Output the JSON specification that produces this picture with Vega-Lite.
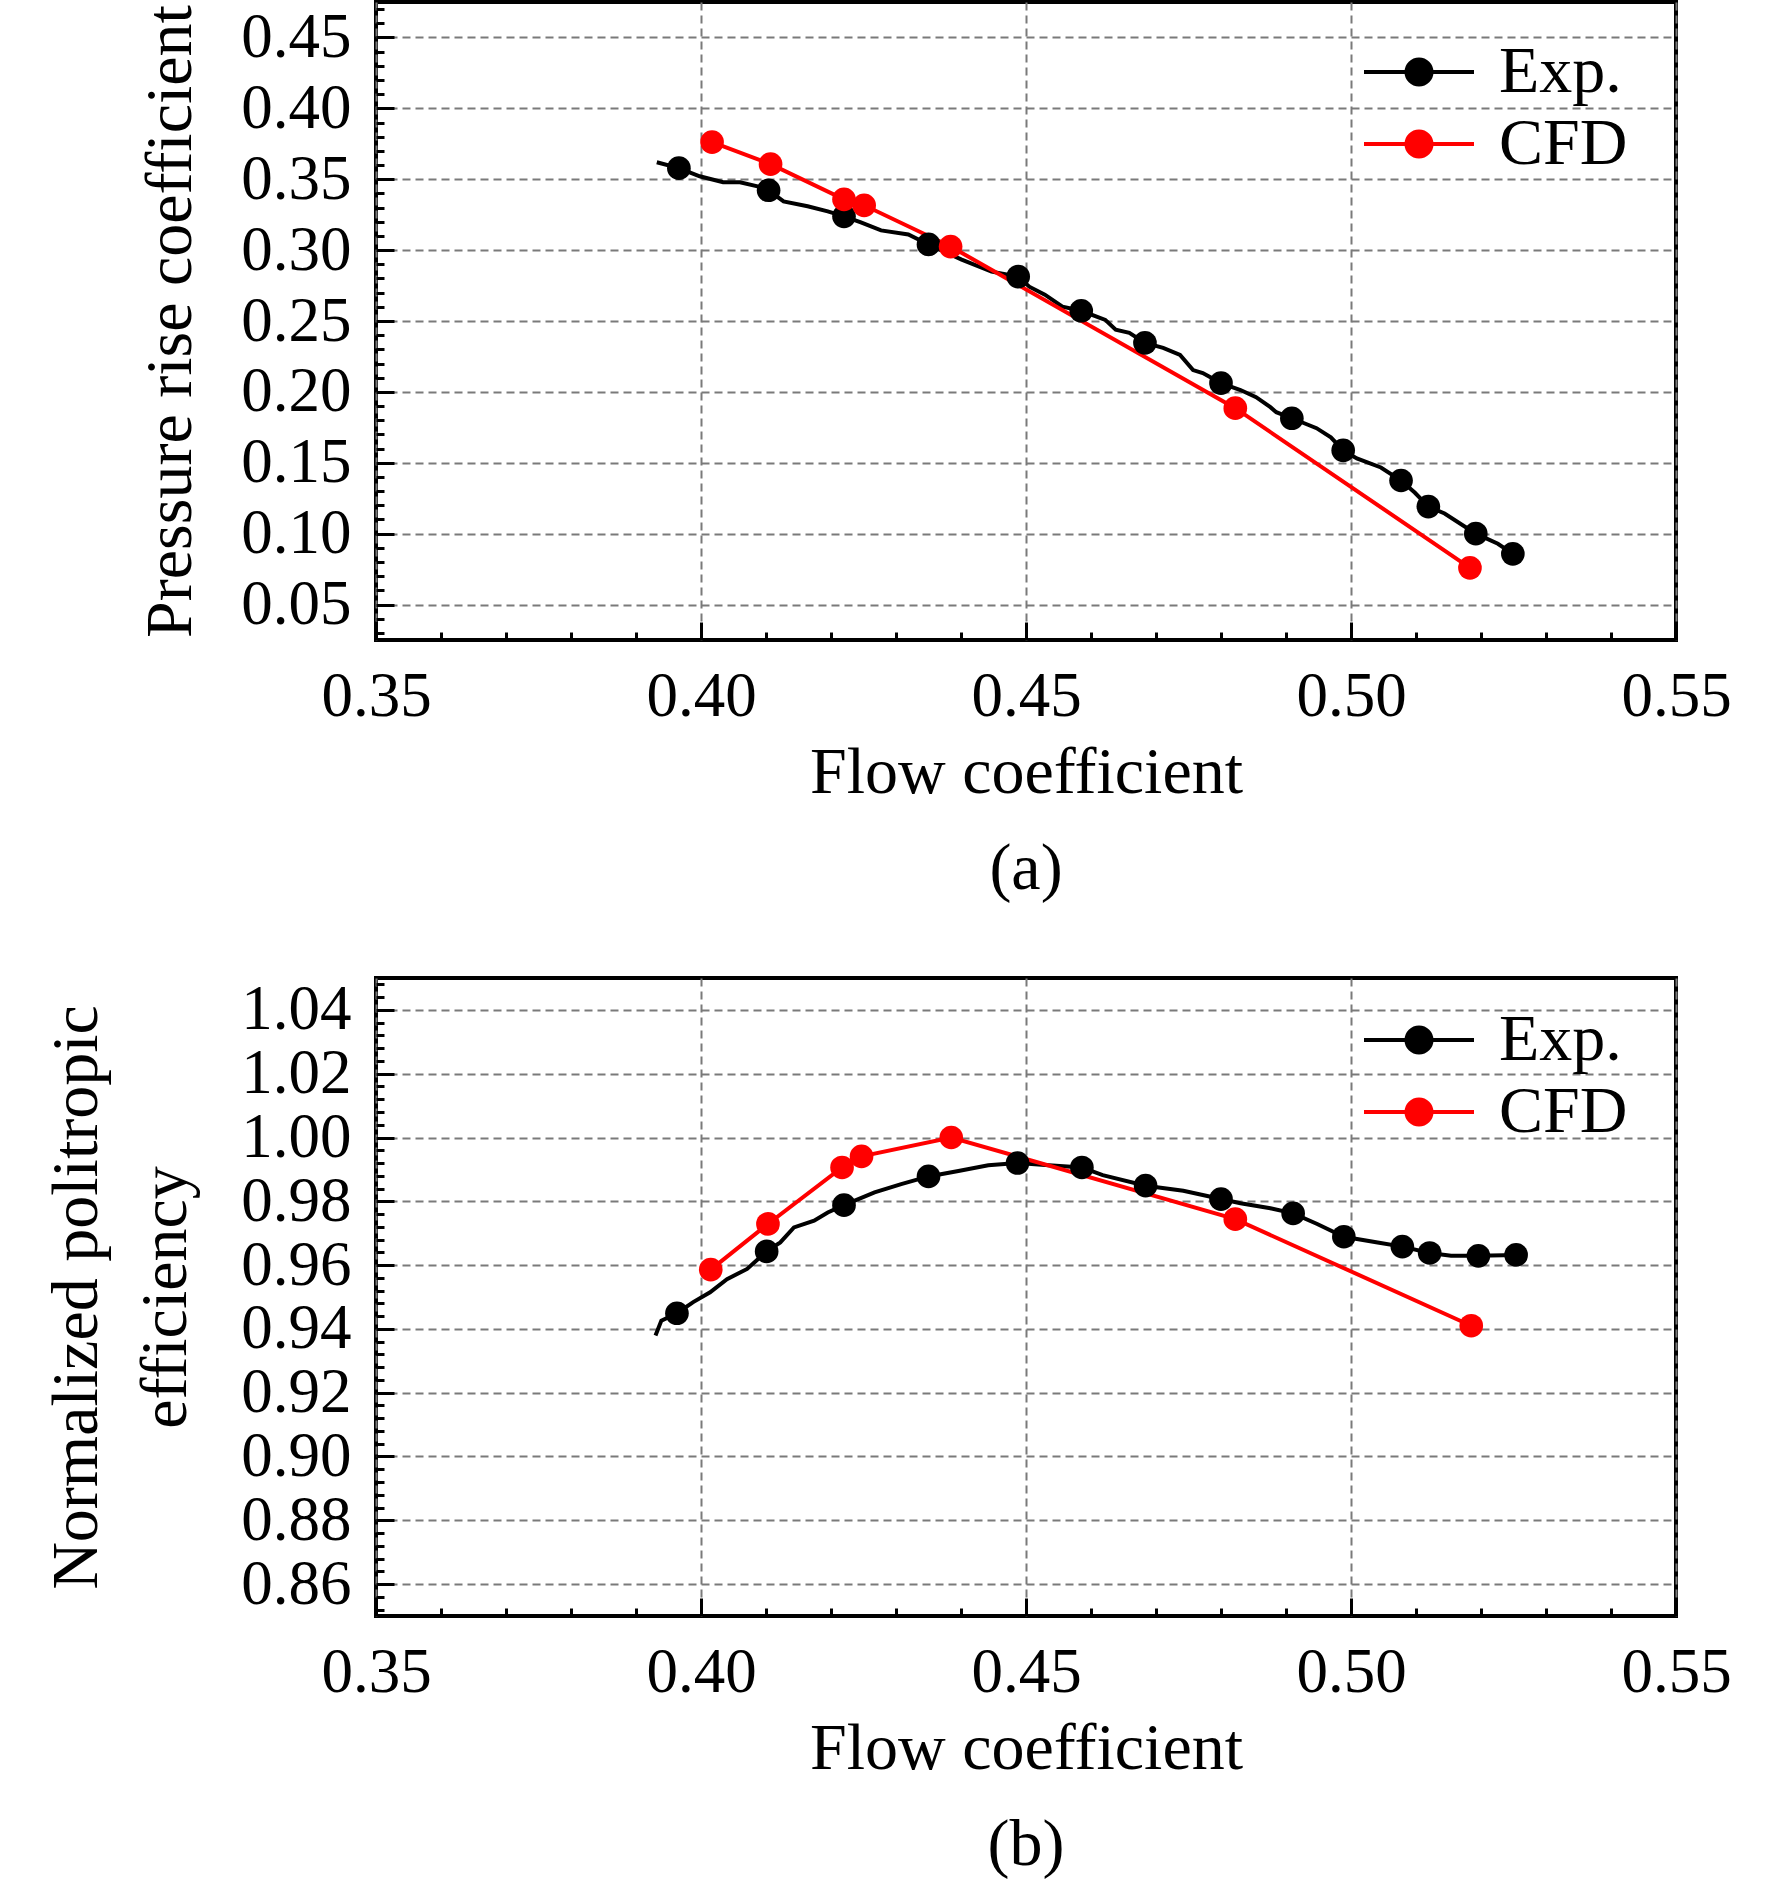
{
  "$schema": "https://vega.github.io/schema/vega-lite/v6.json",
  "padding": {"left": 41, "top": 0, "right": 0, "bottom": 0},
  "spacing": 72,
  "resolve": {"scale": {"color": "independent"}, "legend": {"color": "independent"}},
  "config": {
    "font": "Liberation Serif",
    "view": {"stroke": "black", "strokeWidth": 4},
    "axis": {
      "domain": false,
      "labelFontSize": 63, "labelColor": "black", "labelFlush": false, "labelPadding": 43, "labelOverlap": false,
      "titleFontSize": 66, "titleColor": "black", "titleFontWeight": "normal",
      "tickColor": "black", "tickWidth": 3,
      "gridColor": "#7a7a7a", "gridDash": [8, 5], "gridWidth": 2
    },
    "legend": {
      "labelFontSize": 66, "labelColor": "black", "labelFont": "Liberation Serif",
      "symbolType": "M-4.4,0L4.4,0M-1,0A1,1,0,1,0,1,0A1,1,0,1,0,-1,0Z",
      "symbolSize": 625, "symbolStrokeWidth": 4, "labelOffset": 47, "rowPadding": 6, "padding": 0
    },
    "title": {"fontSize": 66, "fontWeight": "normal", "color": "black", "frame": "group", "orient": "bottom", "anchor": "middle"}
  },
  "datasets": {
    "psi": [
      {"series": "Exp.", "phi": 0.3932, "v": 0.3620, "m": 0},
      {"series": "Exp.", "phi": 0.3966, "v": 0.3578, "m": 1},
      {"series": "Exp.", "phi": 0.3998, "v": 0.3521, "m": 0},
      {"series": "Exp.", "phi": 0.4034, "v": 0.3479, "m": 0},
      {"series": "Exp.", "phi": 0.4060, "v": 0.3479, "m": 0},
      {"series": "Exp.", "phi": 0.4087, "v": 0.3450, "m": 0},
      {"series": "Exp.", "phi": 0.4104, "v": 0.3422, "m": 1},
      {"series": "Exp.", "phi": 0.4127, "v": 0.3344, "m": 0},
      {"series": "Exp.", "phi": 0.4164, "v": 0.3309, "m": 0},
      {"series": "Exp.", "phi": 0.4195, "v": 0.3273, "m": 0},
      {"series": "Exp.", "phi": 0.4220, "v": 0.3238, "m": 1},
      {"series": "Exp.", "phi": 0.4246, "v": 0.3195, "m": 0},
      {"series": "Exp.", "phi": 0.4277, "v": 0.3139, "m": 0},
      {"series": "Exp.", "phi": 0.4319, "v": 0.3110, "m": 0},
      {"series": "Exp.", "phi": 0.4350, "v": 0.3040, "m": 1},
      {"series": "Exp.", "phi": 0.4401, "v": 0.2933, "m": 0},
      {"series": "Exp.", "phi": 0.4447, "v": 0.2848, "m": 0},
      {"series": "Exp.", "phi": 0.4488, "v": 0.2813, "m": 1},
      {"series": "Exp.", "phi": 0.4505, "v": 0.2742, "m": 0},
      {"series": "Exp.", "phi": 0.4529, "v": 0.2686, "m": 0},
      {"series": "Exp.", "phi": 0.4556, "v": 0.2601, "m": 0},
      {"series": "Exp.", "phi": 0.4585, "v": 0.2572, "m": 1},
      {"series": "Exp.", "phi": 0.4622, "v": 0.2508, "m": 0},
      {"series": "Exp.", "phi": 0.4638, "v": 0.2438, "m": 0},
      {"series": "Exp.", "phi": 0.4659, "v": 0.2416, "m": 0},
      {"series": "Exp.", "phi": 0.4683, "v": 0.2346, "m": 1},
      {"series": "Exp.", "phi": 0.4711, "v": 0.2310, "m": 0},
      {"series": "Exp.", "phi": 0.4737, "v": 0.2261, "m": 0},
      {"series": "Exp.", "phi": 0.4757, "v": 0.2154, "m": 0},
      {"series": "Exp.", "phi": 0.4772, "v": 0.2133, "m": 0},
      {"series": "Exp.", "phi": 0.4800, "v": 0.2062, "m": 1},
      {"series": "Exp.", "phi": 0.4830, "v": 0.2013, "m": 0},
      {"series": "Exp.", "phi": 0.4854, "v": 0.1963, "m": 0},
      {"series": "Exp.", "phi": 0.4876, "v": 0.1892, "m": 0},
      {"series": "Exp.", "phi": 0.4885, "v": 0.1857, "m": 0},
      {"series": "Exp.", "phi": 0.4909, "v": 0.1814, "m": 1},
      {"series": "Exp.", "phi": 0.4947, "v": 0.1744, "m": 0},
      {"series": "Exp.", "phi": 0.4969, "v": 0.1680, "m": 0},
      {"series": "Exp.", "phi": 0.4988, "v": 0.1588, "m": 1},
      {"series": "Exp.", "phi": 0.5009, "v": 0.1531, "m": 0},
      {"series": "Exp.", "phi": 0.5046, "v": 0.1467, "m": 0},
      {"series": "Exp.", "phi": 0.5077, "v": 0.1375, "m": 1},
      {"series": "Exp.", "phi": 0.5098, "v": 0.1290, "m": 0},
      {"series": "Exp.", "phi": 0.5119, "v": 0.1191, "m": 1},
      {"series": "Exp.", "phi": 0.5144, "v": 0.1142, "m": 0},
      {"series": "Exp.", "phi": 0.5192, "v": 0.1000, "m": 1},
      {"series": "Exp.", "phi": 0.5226, "v": 0.0929, "m": 0},
      {"series": "Exp.", "phi": 0.5249, "v": 0.0858, "m": 1},
      {"series": "CFD", "phi": 0.4017, "v": 0.3762, "m": 1},
      {"series": "CFD", "phi": 0.4107, "v": 0.3606, "m": 1},
      {"series": "CFD", "phi": 0.4220, "v": 0.3358, "m": 1},
      {"series": "CFD", "phi": 0.4251, "v": 0.3316, "m": 1},
      {"series": "CFD", "phi": 0.4384, "v": 0.3025, "m": 1},
      {"series": "CFD", "phi": 0.4822, "v": 0.1885, "m": 1},
      {"series": "CFD", "phi": 0.5183, "v": 0.0759, "m": 1}
    ],
    "eta": [
      {"series": "Exp.", "phi": 0.3930, "v": 0.9379, "m": 0},
      {"series": "Exp.", "phi": 0.3939, "v": 0.9426, "m": 0},
      {"series": "Exp.", "phi": 0.3963, "v": 0.9449, "m": 1},
      {"series": "Exp.", "phi": 0.3988, "v": 0.9484, "m": 0},
      {"series": "Exp.", "phi": 0.4014, "v": 0.9515, "m": 0},
      {"series": "Exp.", "phi": 0.4040, "v": 0.9556, "m": 0},
      {"series": "Exp.", "phi": 0.4071, "v": 0.9588, "m": 0},
      {"series": "Exp.", "phi": 0.4101, "v": 0.9643, "m": 1},
      {"series": "Exp.", "phi": 0.4122, "v": 0.9671, "m": 0},
      {"series": "Exp.", "phi": 0.4143, "v": 0.9718, "m": 0},
      {"series": "Exp.", "phi": 0.4174, "v": 0.9739, "m": 0},
      {"series": "Exp.", "phi": 0.4195, "v": 0.9765, "m": 0},
      {"series": "Exp.", "phi": 0.4220, "v": 0.9788, "m": 1},
      {"series": "Exp.", "phi": 0.4267, "v": 0.9828, "m": 0},
      {"series": "Exp.", "phi": 0.4308, "v": 0.9854, "m": 0},
      {"series": "Exp.", "phi": 0.4350, "v": 0.9878, "m": 1},
      {"series": "Exp.", "phi": 0.4396, "v": 0.9895, "m": 0},
      {"series": "Exp.", "phi": 0.4442, "v": 0.9913, "m": 0},
      {"series": "Exp.", "phi": 0.4487, "v": 0.9920, "m": 1},
      {"series": "Exp.", "phi": 0.4535, "v": 0.9913, "m": 0},
      {"series": "Exp.", "phi": 0.4586, "v": 0.9906, "m": 1},
      {"series": "Exp.", "phi": 0.4618, "v": 0.9882, "m": 0},
      {"series": "Exp.", "phi": 0.4684, "v": 0.9849, "m": 1},
      {"series": "Exp.", "phi": 0.4742, "v": 0.9833, "m": 0},
      {"series": "Exp.", "phi": 0.4800, "v": 0.9807, "m": 1},
      {"series": "Exp.", "phi": 0.4830, "v": 0.9794, "m": 0},
      {"series": "Exp.", "phi": 0.4876, "v": 0.9778, "m": 0},
      {"series": "Exp.", "phi": 0.4911, "v": 0.9762, "m": 1},
      {"series": "Exp.", "phi": 0.4948, "v": 0.9729, "m": 0},
      {"series": "Exp.", "phi": 0.4989, "v": 0.9689, "m": 1},
      {"series": "Exp.", "phi": 0.5041, "v": 0.9671, "m": 0},
      {"series": "Exp.", "phi": 0.5079, "v": 0.9658, "m": 1},
      {"series": "Exp.", "phi": 0.5121, "v": 0.9638, "m": 1},
      {"series": "Exp.", "phi": 0.5154, "v": 0.9629, "m": 0},
      {"series": "Exp.", "phi": 0.5196, "v": 0.9629, "m": 1},
      {"series": "Exp.", "phi": 0.5254, "v": 0.9632, "m": 1},
      {"series": "CFD", "phi": 0.4015, "v": 0.9586, "m": 1},
      {"series": "CFD", "phi": 0.4103, "v": 0.9729, "m": 1},
      {"series": "CFD", "phi": 0.4217, "v": 0.9906, "m": 1},
      {"series": "CFD", "phi": 0.4247, "v": 0.9941, "m": 1},
      {"series": "CFD", "phi": 0.4385, "v": 1.0000, "m": 1},
      {"series": "CFD", "phi": 0.4822, "v": 0.9744, "m": 1},
      {"series": "CFD", "phi": 0.5185, "v": 0.9410, "m": 1}
    ]
  },
  "vconcat": [
    {
      "width": 1300,
      "height": 638,
      "title": {"text": "(a)", "offset": 32},
      "data": {"name": "psi"},
      "resolve": {"axis": {"x": "independent", "y": "independent"}},
      "layer": [
        {
          "mark": {"type": "line", "strokeWidth": 4},
          "encoding": {
            "x": {
              "field": "phi", "type": "quantitative",
              "scale": {"domain": [0.35, 0.55], "nice": false, "zero": false},
              "axis": {"orient": "bottom", "title": "Flow coefficient", "values": [0.35, 0.4, 0.45, 0.5, 0.55], "format": ".2f", "tickSize": -18, "grid": true, "titlePadding": 12}
            },
            "y": {
              "field": "v", "type": "quantitative",
              "scale": {"domain": [0.025, 0.475], "nice": false, "zero": false},
              "axis": {"orient": "left", "title": "Pressure rise coefficient", "values": [0.05, 0.1, 0.15, 0.2, 0.25, 0.3, 0.35, 0.4, 0.45], "format": ".2f", "tickSize": -18, "grid": true, "titlePadding": 36}
            },
            "color": {
              "field": "series", "type": "nominal",
              "scale": {"domain": ["Exp.", "CFD"], "range": ["#000000", "#ff0000"]},
              "legend": {
                "title": null, "orient": "none", "legendX": 1010, "legendY": 37,
                "encode": {"symbols": {"update": {
                  "fill": {"signal": "datum.value === 'CFD' ? '#ff0000' : '#000000'"},
                  "stroke": {"signal": "datum.value === 'CFD' ? '#ff0000' : '#000000'"},
                  "opacity": {"value": 1}
                }}}
              }
            }
          }
        },
        {
          "transform": [{"filter": "datum.m == 1"}],
          "mark": {"type": "point", "filled": true, "size": 560, "opacity": 1},
          "encoding": {
            "x": {
              "field": "phi", "type": "quantitative",
              "axis": {"orient": "bottom", "title": null, "labels": false, "grid": false, "tickSize": -8,
                "values": [0.36, 0.37, 0.38, 0.39, 0.41, 0.42, 0.43, 0.44, 0.46, 0.47, 0.48, 0.49, 0.51, 0.52, 0.53, 0.54]}
            },
            "y": {
              "field": "v", "type": "quantitative",
              "axis": {"orient": "left", "title": null, "labels": false, "grid": false, "tickSize": -8,
                "values": [0.03, 0.04, 0.06, 0.07, 0.08, 0.09, 0.11, 0.12, 0.13, 0.14, 0.16, 0.17, 0.18, 0.19, 0.21, 0.22, 0.23, 0.24, 0.26, 0.27, 0.28, 0.29, 0.31, 0.32, 0.33, 0.34, 0.36, 0.37, 0.38, 0.39, 0.41, 0.42, 0.43, 0.44, 0.46, 0.47]}
            },
            "color": {"field": "series", "type": "nominal"}
          }
        }
      ]
    },
    {
      "width": 1300,
      "height": 638,
      "title": {"text": "(b)", "offset": 32},
      "data": {"name": "eta"},
      "resolve": {"axis": {"x": "independent", "y": "independent"}},
      "layer": [
        {
          "mark": {"type": "line", "strokeWidth": 4},
          "encoding": {
            "x": {
              "field": "phi", "type": "quantitative",
              "scale": {"domain": [0.35, 0.55], "nice": false, "zero": false},
              "axis": {"orient": "bottom", "title": "Flow coefficient", "values": [0.35, 0.4, 0.45, 0.5, 0.55], "format": ".2f", "tickSize": -18, "grid": true, "titlePadding": 12}
            },
            "y": {
              "field": "v", "type": "quantitative",
              "scale": {"domain": [0.85, 1.05], "nice": false, "zero": false},
              "axis": {"orient": "left", "title": ["Normalized politropic", "efficiency"], "titleLineHeight": 89, "values": [0.86, 0.88, 0.9, 0.92, 0.94, 0.96, 0.98, 1.0, 1.02, 1.04], "format": ".2f", "tickSize": -18, "grid": true, "titlePadding": 41}
            },
            "color": {
              "field": "series", "type": "nominal",
              "scale": {"domain": ["Exp.", "CFD"], "range": ["#000000", "#ff0000"]},
              "legend": {
                "title": null, "orient": "none", "legendX": 1010, "legendY": 29,
                "encode": {"symbols": {"update": {
                  "fill": {"signal": "datum.value === 'CFD' ? '#ff0000' : '#000000'"},
                  "stroke": {"signal": "datum.value === 'CFD' ? '#ff0000' : '#000000'"},
                  "opacity": {"value": 1}
                }}}
              }
            }
          }
        },
        {
          "transform": [{"filter": "datum.m == 1"}],
          "mark": {"type": "point", "filled": true, "size": 560, "opacity": 1},
          "encoding": {
            "x": {
              "field": "phi", "type": "quantitative",
              "axis": {"orient": "bottom", "title": null, "labels": false, "grid": false, "tickSize": -8,
                "values": [0.36, 0.37, 0.38, 0.39, 0.41, 0.42, 0.43, 0.44, 0.46, 0.47, 0.48, 0.49, 0.51, 0.52, 0.53, 0.54]}
            },
            "y": {
              "field": "v", "type": "quantitative",
              "axis": {"orient": "left", "title": null, "labels": false, "grid": false, "tickSize": -8,
                "values": [0.852, 0.856, 0.864, 0.868, 0.872, 0.876, 0.884, 0.888, 0.892, 0.896, 0.904, 0.908, 0.912, 0.916, 0.924, 0.928, 0.932, 0.936, 0.944, 0.948, 0.952, 0.956, 0.964, 0.968, 0.972, 0.976, 0.984, 0.988, 0.992, 0.996, 1.004, 1.008, 1.012, 1.016, 1.024, 1.028, 1.032, 1.036, 1.044, 1.048]}
            },
            "color": {"field": "series", "type": "nominal"}
          }
        }
      ]
    }
  ]
}
